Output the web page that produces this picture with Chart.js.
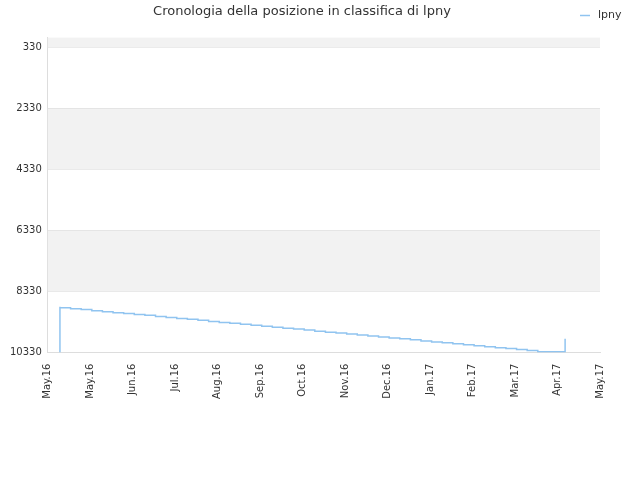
<!DOCTYPE html><html><head><script src="https://cdn.jsdelivr.net/npm/chart.js@4"></script>
<style>body{margin:0}#w{width:640px;height:480px}</style></head><body><div id="w"><canvas id="c"></canvas></div><script>
const xLabels=["May.16","May.16","Jun.16","Jul.16","Aug.16","Sep.16","Oct.16","Nov.16","Dec.16","Jan.17","Feb.17","Mar.17","Apr.17","May.17"];
const yTicks=[330,2330,4330,6330,8330,10330];
const ranks=[10330,8830,8860,8890,8920,8960,8990,9020,9050,9080,9110,9150,9180,9210,9240,9270,9310,9340,9370,9400,9430,9470,9500,9530,9560,9590,9630,9660,9690,9720,9750,9790,9820,9850,9880,9910,9950,9980,10010,10040,10070,10110,10140,10170,10200,10230,10260,10300,10300,9880];
const days=[8,8];for(let k=1;k<=46;k++)days.push(8+7*k);days.push(341,341);
const pts=ranks.map((v,i)=>({x:days[i]/28,y:v}));
const bands={id:'bands',beforeDatasetsDraw(c){const a=c.chartArea,y=c.scales.y,x=c.ctx;x.save();x.fillStyle='#f2f2f2';
[[0,330],[2330,4330],[6330,8330]].forEach(b=>{const t=y.getPixelForValue(b[0]),bt=y.getPixelForValue(b[1]);x.fillRect(a.left,t,a.right-a.left,bt-t);});x.restore();},
afterDraw(c){const x=c.ctx;x.save();x.strokeStyle='#90c4f0';x.lineWidth=1.5;x.beginPath();x.moveTo(580,15.5);x.lineTo(590,15.5);x.stroke();x.fillStyle='#333';x.font='11px DejaVu Sans';x.textBaseline='middle';x.fillText('lpny',598,15);x.restore();}};
new Chart(document.getElementById('c'),{type:'line',data:{datasets:[{label:'lpny',data:pts,borderColor:'#90c4f0',backgroundColor:'#90c4f0',borderWidth:1.5,pointRadius:0,stepped:'after',fill:false}]},
options:{responsive:true,maintainAspectRatio:false,animation:false,layout:{padding:{left:4,right:40,top:0,bottom:78}},
plugins:{title:{display:true,text:'Cronologia della posizione in classifica di lpny',color:'#333',font:{family:'DejaVu Sans',size:13,weight:'normal'},padding:{top:4,bottom:18}},
legend:{display:false}},
scales:{x:{type:'linear',min:0,max:13,afterBuildTicks(s){s.ticks=xLabels.map((l,i)=>({value:i}));},ticks:{callback:(v,i)=>xLabels[i],maxRotation:90,minRotation:90,color:'#333',font:{family:'DejaVu Sans',size:10}},grid:{display:false},border:{color:'#ddd'}},
y:{reverse:true,min:0,max:10330,afterBuildTicks(s){s.ticks=yTicks.map(v=>({value:v}));},ticks:{callback:v=>String(v),color:'#333',font:{family:'DejaVu Sans',size:10},padding:6},grid:{color:'#ddd',drawTicks:false},border:{color:'#ddd'}}}},plugins:[bands]});
</script></body></html>
